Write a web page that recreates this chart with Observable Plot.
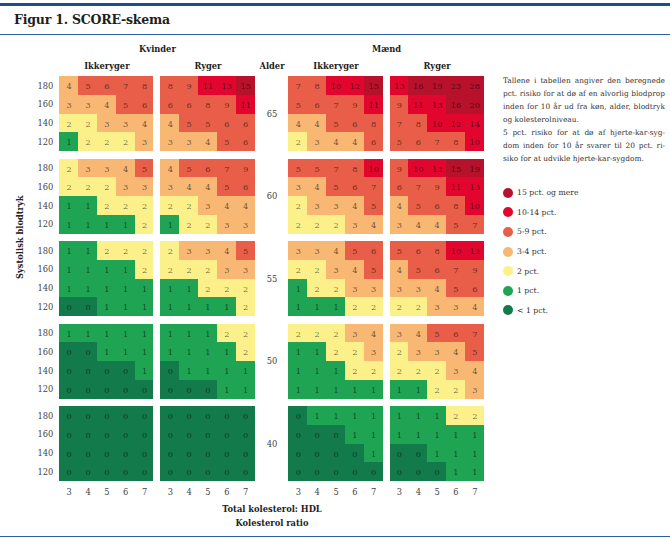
<!DOCTYPE html>
<html>
<head>
<meta charset="utf-8">
<script src="https://cdn.jsdelivr.net/npm/d3@7"></script>
<script src="https://cdn.jsdelivr.net/npm/@observablehq/plot@0.6"></script>
<style>
  html, body { margin: 0; padding: 0; background: #fff; }
  #page { position: relative; width: 670px; height: 540px; overflow: hidden; font-family: "DejaVu Serif", serif; color: #333; }
  .bar { position: absolute; left: 0; width: 670px; }
  #title { position: absolute; left: 14px; top: 12px; font-weight: bold; font-size: 12.5px; color: #1e1e1e; letter-spacing: -0.2px; }
  #chart { position: absolute; left: 0; top: 36px; }
  #note { position: absolute; left: 503px; top: 74px; width: 162px; font-size: 7.4px; line-height: 13px; color: #333; }
  #note div { white-space: nowrap; }
  #note .j { text-align: justify; text-align-last: justify; white-space: normal; height: 13px; overflow: visible; }
  #legend { position: absolute; left: 503px; top: 183px; font-size: 7.7px; color: #333; }
  .li { height: 19.6px; display: flex; align-items: center; }
  .sw { width: 10px; height: 10px; border-radius: 50%; margin-right: 4px; flex: none; }
</style>
</head>
<body>
<div id="page">
  <div class="bar" style="top:3px;height:3.4px;background:#1a4f8b"></div>
  <div id="title">Figur 1. SCORE-skema</div>
  <div class="bar" style="top:34px;height:1.3px;background:#2a60a0"></div>
  <div id="chart"></div>
  <div id="note"></div>
  <div id="legend"></div>
  <div class="bar" style="top:536px;height:1.4px;background:#2a60a0"></div>
</div>
<script>
// ---- data ----
const ages = [65, 60, 55, 50, 40];
const bloodPressure = [180, 160, 140, 120];
const cholesterol = [3, 4, 5, 6, 7];
const sexes = ["Kvinder", "Mænd"];
const smokers = ["Ikkeryger", "Ryger"];

// rows: for each age (65,60,55,50,40), systolic 180,160,140,120; columns cholesterol 3..7
const kvinderIkkeryger = [
  [4,5,6,7,8],[3,3,4,5,6],[2,2,3,3,4],[1,2,2,2,3],
  [2,3,3,4,5],[2,2,2,3,3],[1,1,2,2,2],[1,1,1,1,2],
  [1,1,2,2,2],[1,1,1,1,2],[1,1,1,1,1],[0,0,1,1,1],
  [1,1,1,1,1],[0,0,1,1,1],[0,0,0,0,1],[0,0,0,0,0],
  [0,0,0,0,0],[0,0,0,0,0],[0,0,0,0,0],[0,0,0,0,0]
];
const kvinderRyger = [
  [8,9,11,13,15],[6,6,8,9,11],[4,5,5,6,6],[3,3,4,5,6],
  [4,5,6,7,9],[3,4,4,5,6],[2,2,3,4,4],[1,2,2,3,3],
  [2,3,3,4,5],[2,2,2,3,3],[1,1,2,2,2],[1,1,1,1,2],
  [1,1,1,2,2],[1,1,1,1,2],[0,1,1,1,1],[0,0,0,1,1],
  [0,0,0,0,0],[0,0,0,0,0],[0,0,0,0,0],[0,0,0,0,0]
];
const maendIkkeryger = [
  [7,8,10,12,15],[5,6,7,9,11],[4,4,5,6,8],[2,3,4,4,6],
  [5,5,7,8,10],[3,4,5,6,7],[2,3,3,4,5],[2,2,2,3,4],
  [3,3,4,5,6],[2,2,3,4,5],[1,2,2,3,3],[1,1,1,2,2],
  [2,2,2,3,4],[1,1,2,2,3],[1,1,1,2,2],[1,1,1,1,1],
  [0,1,1,1,1],[0,0,0,1,1],[0,0,0,0,1],[0,0,0,0,0]
];
const maendRyger = [
  [13,16,19,23,28],[9,11,13,16,20],[7,8,10,12,14],[5,6,7,8,10],
  [9,10,12,15,19],[6,7,9,11,13],[4,5,6,8,10],[3,4,4,5,7],
  [5,6,8,10,12],[4,5,6,7,9],[3,3,4,5,6],[2,2,3,3,4],
  [3,4,5,6,7],[2,3,3,4,5],[2,2,2,3,4],[1,1,2,2,3],
  [1,1,1,2,2],[1,1,1,1,1],[0,0,1,1,1],[0,0,0,1,1]
];

const riskLabels = ["15 pct. og mere", "10-14 pct.", "5-9 pct.", "3-4 pct.", "2 pct.", "1 pct.", "< 1 pct."];
const riskColors = ["#b8112c", "#e2062f", "#e85e48", "#f8b874", "#fcf08a", "#1ea453", "#127a4b"];

const noteLines = [
  ["Tallene i tabellen angiver den beregnede", true],
  ["pct. risiko for at dø af en alvorlig blodprop", true],
  ["inden for 10 år ud fra køn, alder, blodtryk", true],
  ["og kolesterolniveau.", false],
  ["5 pct. risiko for at dø af hjerte-kar-syg-", true],
  ["dom inden for 10 år svarer til 20 pct. ri-", true],
  ["siko for at udvikle hjerte-kar-sygdom.", false]
];

// ---- layout (in cell units) ----
const GAP = 0.37, ALDER = 1.8, VGAP = 0.4;
const panelX = [0, 5 + GAP, 10 + GAP + ALDER, 15 + 2 * GAP + ALDER];
const ageY = ages.map((a, i) => i * (4 + VGAP));
const alderX = 10 + GAP + ALDER / 2;
const xMax = 20 + 2 * GAP + ALDER;
const yMax = ages.length * 4 + (ages.length - 1) * VGAP;

function riskClass(v) {
  if (v >= 15) return riskLabels[0];
  if (v >= 10) return riskLabels[1];
  if (v >= 5) return riskLabels[2];
  if (v >= 3) return riskLabels[3];
  if (v >= 2) return riskLabels[4];
  if (v >= 1) return riskLabels[5];
  return riskLabels[6];
}

const panelData = [
  {sex: sexes[0], smoke: smokers[0], values: kvinderIkkeryger},
  {sex: sexes[0], smoke: smokers[1], values: kvinderRyger},
  {sex: sexes[1], smoke: smokers[0], values: maendIkkeryger},
  {sex: sexes[1], smoke: smokers[1], values: maendRyger}
];

const cells = [];
panelData.forEach((p, pi) => {
  ages.forEach((age, ai) => {
    bloodPressure.forEach((b, bi) => {
      cholesterol.forEach((c, ci) => {
        const v = p.values[ai * 4 + bi][ci];
        cells.push({x: panelX[pi] + ci, y: ageY[ai] + bi, v, cat: riskClass(v)});
      });
    });
  });
});

const bpLabels = [];
ages.forEach((a, ai) => bloodPressure.forEach((b, bi) => bpLabels.push({y: ageY[ai] + bi + 0.5, t: String(b)})));
const cholLabels = [];
panelX.forEach(px => cholesterol.forEach((c, ci) => cholLabels.push({x: px + ci + 0.5, t: String(c)})));
const ageLabels = ages.map((a, ai) => ({y: ageY[ai] + 2, t: String(a)}));
const smokeLabels = panelData.map((p, pi) => ({x: panelX[pi] + 2.5, t: p.smoke}));
const sexLabels = [
  {x: (panelX[0] + panelX[1] + 5) / 2, t: sexes[0]},
  {x: (panelX[2] + panelX[3] + 5) / 2, t: sexes[1]}
];

const FONT = "DejaVu Serif";

const chart = Plot.plot({
  width: 670,
  height: 498,
  marginLeft: 59.3,
  marginRight: 186.3,
  marginTop: 40,
  marginBottom: 53,
  style: {fontFamily: FONT, background: "transparent", overflow: "visible"},
  x: {domain: [0, xMax], axis: null},
  y: {domain: [0, yMax], reverse: true, axis: null},
  color: {domain: riskLabels, range: riskColors},
  marks: [
    Plot.rect(cells, {x1: d => d.x, x2: d => d.x + 1, y1: d => d.y, y2: d => d.y + 1, fill: "cat", shapeRendering: "crispEdges"}),
    Plot.text(cells, {x: d => d.x + 0.5, y: d => d.y + 0.5, text: d => String(d.v), fill: "#000", fillOpacity: 0.58, fontSize: 8.2, dy: 0.5}),
    Plot.text(bpLabels, {x: 0, y: "y", text: "t", textAnchor: "end", dx: -6.5, fontSize: 8.3, fill: "#444"}),
    Plot.text(cholLabels, {x: "x", y: yMax, text: "t", dy: 10.5, fontSize: 8.3, fill: "#444"}),
    Plot.text(ageLabels, {x: alderX, y: "y", text: "t", fontSize: 8.3, fill: "#444"}),
    Plot.text(smokeLabels, {x: "x", y: 0, text: "t", dy: -10, fontSize: 8.3, fontWeight: "bold", fill: "#222"}),
    Plot.text(sexLabels, {x: "x", y: 0, text: "t", dy: -27, fontSize: 8.3, fontWeight: "bold", fill: "#222"}),
    Plot.text(["Alder"], {x: alderX, y: 0, text: d => d, dy: -10, fontSize: 8.3, fontWeight: "bold", fill: "#222"}),
    Plot.text(["Systolisk blodtryk"], {frameAnchor: "left", dx: -39.3, rotate: -90, text: d => d, fontSize: 8.3, fontWeight: "bold", fill: "#222"}),
    Plot.text(["Total kolesterol: HDL"], {x: alderX, y: yMax, text: d => d, dy: 28, fontSize: 8.3, fontWeight: "bold", fill: "#222"}),
    Plot.text(["Kolesterol ratio"], {x: alderX, y: yMax, text: d => d, dy: 42, fontSize: 8.3, fontWeight: "bold", fill: "#222"})
  ]
});
document.getElementById("chart").appendChild(chart);

const note = document.getElementById("note");
noteLines.forEach(([t, j]) => {
  const d = document.createElement("div");
  d.textContent = t;
  if (j) d.className = "j";
  note.appendChild(d);
});

const legend = document.getElementById("legend");
riskLabels.forEach((l, i) => {
  const row = document.createElement("div");
  row.className = "li";
  const sw = document.createElement("span");
  sw.className = "sw";
  sw.style.background = riskColors[i];
  const tx = document.createElement("span");
  tx.textContent = l;
  row.appendChild(sw);
  row.appendChild(tx);
  legend.appendChild(row);
});
</script>
</body>
</html>
